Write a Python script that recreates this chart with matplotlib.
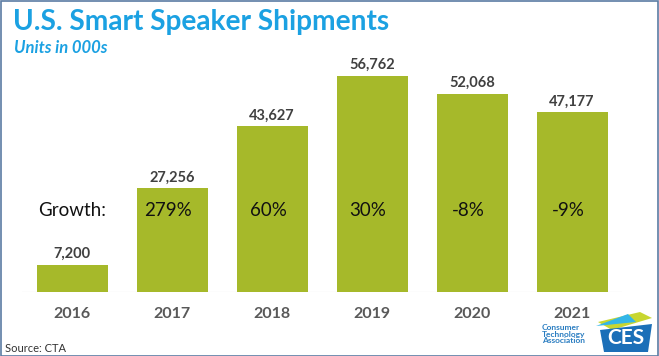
import matplotlib
matplotlib.use('Agg')
import matplotlib.pyplot as plt
from matplotlib.patches import Polygon, Rectangle

years = ['2016', '2017', '2018', '2019', '2020', '2021']
shipments = [7200, 27256, 43627, 56762, 52068, 47177]
growth = ['', '279%', '60%', '30%', '-8%', '-9%']

BAR_COLOR = '#A6B92A'
TITLE_COLOR = '#1BA1E2'
W, H = 659, 356

plt.rcParams['font.family'] = ['Lato', 'DejaVu Sans']

fig = plt.figure(figsize=(W / 100, H / 100), dpi=100)
fig.patch.set_facecolor('white')

# axes placed so baseline sits at y=292 px and bar centres at 72..572 px
ax = fig.add_axes([22 / W, 64 / H, 600 / W, 296 / H])
x = list(range(len(years)))
ax.bar(x, shipments, width=0.71, color=BAR_COLOR, zorder=2)
ax.set_xlim(-0.5, 5.5)
ax.set_ylim(0, 296 / 0.00381)
ax.axis('off')
ax.axhline(0, color='#D9D9D9', linewidth=0.8, zorder=1)

for xi, v in zip(x, shipments):
    ax.annotate(f'{v:,}', (xi, v), xytext=(0, 2.5), textcoords='offset points',
                ha='center', va='bottom', fontsize=10.5, fontweight='bold', color='#404040')

growth_y = (292 - 210) / 0.00381
for xi, g in zip(x, growth):
    if g:
        ax.text(xi - 0.04, growth_y, g, ha='center', va='center', fontsize=13.5, color='#111111')
ax.text(0, growth_y, 'Growth:', ha='center', va='center', fontsize=13.5, color='#111111')

for xi, yr in zip(x, years):
    ax.annotate(yr, (xi, 0), xytext=(0, -15.5), textcoords='offset points',
                ha='center', va='center', fontsize=11.5, fontweight='bold', color='#595959')

# titles
fig.text(13 / W, 1 - 22 / H, 'U.S. Smart Speaker Shipments', ha='left', va='center',
         fontsize=20.2, fontweight='bold', color=TITLE_COLOR)
fig.text(14 / W, 1 - 48 / H, 'Units in 000s', ha='left', va='center',
         fontsize=12, fontweight='bold', style='italic', color=TITLE_COLOR)
fig.text(5 / W, 1 - 349 / H, 'Source: CTA', ha='left', va='center', fontsize=8, color='#333333')

# CES logo (approximation)
fig.text(542 / W, 1 - 334 / H, 'Consumer\nTechnology\nAssociation', ha='left', va='center',
         fontsize=6, fontweight='bold', color='#2A7DC1', linespacing=0.95)
def px(pts):
    return [(a / W, 1 - b / H) for a, b in pts]
fig.patches.append(Polygon(px([(598, 322), (640, 312), (652, 318), (612, 330)]), closed=True,
                           facecolor='#C8D630', transform=fig.transFigure, figure=fig))
fig.patches.append(Polygon(px([(596, 326), (628, 314), (636, 322)]), closed=True,
                           facecolor='#33B6E8', transform=fig.transFigure, figure=fig))
fig.patches.append(Polygon(px([(600, 330), (652, 324), (648, 352), (604, 352)]), closed=True,
                           facecolor='#1B6FB8', transform=fig.transFigure, figure=fig))
fig.text(626 / W, 1 - 338 / H, 'CES', ha='center', va='center', fontsize=15,
         fontweight='bold', color='white')

# thin frame around the picture
fig.patches.append(Rectangle((0.5 / W, 0.5 / H), 1 - 1.5 / W, 1 - 1.5 / H, fill=False,
                             edgecolor='#5B7CA3', linewidth=1.2, transform=fig.transFigure, figure=fig))

fig.savefig('out.png', dpi=100)
